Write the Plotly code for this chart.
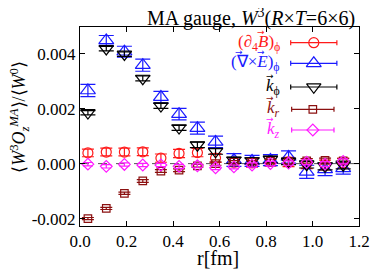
import plotly.graph_objects as go

# ---------------- data ----------------
r_fm = [0.034, 0.113, 0.191, 0.270, 0.348, 0.426, 0.505, 0.583,
        0.662, 0.740, 0.819, 0.897, 0.975, 1.054, 1.132]

d4B_phi = [0.00039, 0.00042, 0.00042, 0.00043, 0.00020, 0.00037, 0.00040, 0.00020,
           0.00005, 0.00003, 0.00008, 0.00006, 0.00000, -0.00005, 0.00002]
d4B_phi_err = [0.00014, 0.00014, 0.00014, 0.00014, 0.00015, 0.00015, 0.00015, 0.00016,
               0.00016, 0.00016, 0.00017, 0.00017, 0.00018, 0.00018, 0.00018]

rotE_phi = [0.00266, 0.00448, 0.00407, 0.00358, 0.00242, 0.00180, 0.00129, 0.00079,
            0.00013, 0.00010, 0.00013, 0.00024, -0.00030, -0.00021, -0.00017]
rotE_phi_err = [0.00022, 0.00018, 0.00020, 0.00022, 0.00021, 0.00021, 0.00022, 0.00021,
                0.00023, 0.00020, 0.00020, 0.00022, 0.00024, 0.00023, 0.00021]

k_phi = [0.00185, 0.00418, 0.00398, 0.00310, 0.00210, 0.00130, 0.00068, 0.00044,
         0.00012, 0.00010, 0.00015, 0.00008, -0.00003, -0.00010, -0.00005]
k_phi_err = [0.00008, 0.00008, 0.00008, 0.00009, 0.00009, 0.00009, 0.00010, 0.00010,
             0.00011, 0.00011, 0.00012, 0.00012, 0.00013, 0.00013, 0.00014]

k_r = [-0.00200, -0.00163, -0.00108, -0.00063, -0.00027, -0.00024, -0.00008, 0.00000,
       0.00005, 0.00005, 0.00008, 0.00006, 0.00010, 0.00012, 0.00010]
k_r_err = [0.00004, 0.00004, 0.00004, 0.00005, 0.00005, 0.00005, 0.00005, 0.00006,
           0.00006, 0.00006, 0.00007, 0.00007, 0.00008, 0.00008, 0.00008]

k_z = [-0.00002, -0.00010, -0.00003, -0.00005, -0.00005, -0.00010, -0.00008, -0.00015,
       -0.00012, -0.00005, 0.00000, 0.00002, 0.00005, -0.00002, 0.00008]
k_z_err = [0.00006, 0.00006, 0.00006, 0.00006, 0.00006, 0.00007, 0.00007, 0.00007,
           0.00007, 0.00008, 0.00008, 0.00008, 0.00009, 0.00009, 0.00009]

x_tickvals = [0.0, 0.2, 0.4, 0.6, 0.8, 1.0, 1.2]
x_ticktext = ["0.0", "0.2", "0.4", "0.6", "0.8", "1.0", "1.2"]
y_tickvals = [-0.002, 0.0, 0.002, 0.004]
y_ticktext = ["-0.002", "0.000", "0.002", "0.004"]

series_labels = [
    "(∂<sub>4</sub><i>B</i>)<sub>ϕ</sub>",
    "(∇×<i>E</i>)<sub>ϕ</sub>",
    "<i>k</i><sub>ϕ</sub>",
    "<i>k</i><sub><i>r</i></sub>",
    "<i>k</i><sub><i>z</i></sub>",
]

# ---------------- styles / layout ----------------
FONT = "Liberation Serif, Times New Roman, serif"
PAGE_OFF = 8            # default body margin of the html page
W, H = 382 - PAGE_OFF, 270 - PAGE_OFF
PX_L, PX_R, PX_T, PX_B = 80, 370, 27, 226   # plot area in window pixels
L, R, T, B = PX_L - PAGE_OFF, 382 - PX_R, PX_T - PAGE_OFF, 270 - PX_B
PW, PH = PX_R - PX_L, PX_B - PX_T


def px2paper(px, py):
    return (px - PX_L) / PW, (PX_B - py) / PH


styles = [
    dict(color="#ff1a1a", symbol="circle-open", size=10),
    dict(color="#1a1aff", symbol="triangle-up-open", size=13),
    dict(color="#000000", symbol="triangle-down-open", size=12.5),
    dict(color="#8b1010", symbol="square-open", size=7.5),
    dict(color="#ff1aff", symbol="diamond-open", size=9),
]
cap_w = [6, 7.5, 7.5, 6, 5]
series = [(d4B_phi, d4B_phi_err), (rotE_phi, rotE_phi_err), (k_phi, k_phi_err),
          (k_r, k_r_err), (k_z, k_z_err)]

fig = go.Figure()

for (vals, errs), st, cw in zip(series, styles, cap_w):
    fig.add_trace(go.Scatter(
        x=r_fm, y=vals, mode="markers",
        marker=dict(symbol=st["symbol"], size=st["size"], color=st["color"],
                    line=dict(width=1.2, color=st["color"])),
        error_y=dict(type="data", array=errs, visible=True, color=st["color"],
                     thickness=1.2, width=cw),
        showlegend=False, xaxis="x", yaxis="y",
    ))

# ------------- custom legend (gnuplot style: text left, sample right) -------------
leg_rows_px = [42.7, 63.3, 87.0, 109.3, 130.0]
leg_sample_x_px = [323, 323, 323, 322, 322]
leg_half_len = [24, 24, 24, 22, 22]
leg_text_right_px = 290
# vector arrows drawn above the letters (x positions, one row each)
leg_arrow_x_px = [[268], [245, 268], [277], [277], [277]]
leg_arrow_dy = -11

for i, st in enumerate(styles):
    fig.add_trace(go.Scatter(
        x=[leg_sample_x_px[i]], y=[leg_rows_px[i]], mode="markers",
        marker=dict(symbol=st["symbol"], size=st["size"], color=st["color"],
                    line=dict(width=1.2, color=st["color"])),
        error_x=dict(type="constant", value=leg_half_len[i], visible=True,
                     color=st["color"], thickness=1.2, width=2.5),
        showlegend=False, xaxis="x2", yaxis="y2", hoverinfo="skip",
    ))
    tx, ty = px2paper(leg_text_right_px, leg_rows_px[i])
    fig.add_annotation(
        x=tx, y=ty, xref="paper", yref="paper", xanchor="right", yanchor="middle",
        text=series_labels[i], showarrow=False,
        font=dict(family=FONT, size=17, color=st["color"]),
    )
    for ax_px in leg_arrow_x_px[i]:
        axp, ayp = px2paper(ax_px, leg_rows_px[i] + leg_arrow_dy)
        fig.add_annotation(
            x=axp, y=ayp, xref="paper", yref="paper", xanchor="center", yanchor="middle",
            text="→", showarrow=False,
            font=dict(family="DejaVu Sans", size=9, color=st["color"]),
        )

# zero line (dashed)
fig.add_shape(type="line", xref="paper", yref="y", x0=0, x1=1, y0=0, y1=0,
              line=dict(color="#555555", width=1, dash="dash"), layer="below")

axis_common = dict(showline=True, linecolor="black", linewidth=1, mirror="ticks",
                   ticks="inside", ticklen=5, tickcolor="black", showgrid=False,
                   zeroline=False, tickfont=dict(family=FONT, size=17, color="black"))

fig.update_layout(
    width=W, height=H,
    margin=dict(l=L, r=R, t=T, b=B),
    paper_bgcolor="white", plot_bgcolor="white",
    xaxis=dict(range=[0, 1.2], tickvals=x_tickvals, ticktext=x_ticktext, **axis_common),
    yaxis=dict(range=[-0.00227, 0.00497], tickvals=y_tickvals, ticktext=y_ticktext,
               **axis_common),
    xaxis2=dict(overlaying="x", range=[PX_L, PX_R], visible=False),
    yaxis2=dict(overlaying="y", range=[PX_B, PX_T], visible=False),
    showlegend=False,
)

# title
tx, ty = px2paper(368, 17.5)
fig.add_annotation(
    x=tx, y=ty, xref="paper", yref="paper",
    xanchor="right", yanchor="middle", showarrow=False,
    text="MA gauge, <i>W</i><sup>3</sup>(<i>R</i>×<i>T</i>=6×6)",
    font=dict(family=FONT, size=20, color="black"),
)
# x title
tx, ty = px2paper(223, 258)
fig.add_annotation(
    x=tx, y=ty, xref="paper", yref="paper",
    xanchor="center", yanchor="middle", showarrow=False,
    text="r[fm]", font=dict(family=FONT, size=20, color="black"),
)
# y title
tx, ty = px2paper(17.5, 117)
fig.add_annotation(
    x=tx, y=ty, xref="paper", yref="paper",
    xanchor="center", yanchor="middle", showarrow=False, textangle=-90,
    text="⟨<i>W</i><sup>3</sup><i>O</i><sub><i>z</i></sub><sup><i>MA</i></sup>⟩/⟨<i>W</i><sup>0</sup>⟩",
    font=dict(family=FONT, size=18, color="black"),
)

fig.write_html("out.html")
